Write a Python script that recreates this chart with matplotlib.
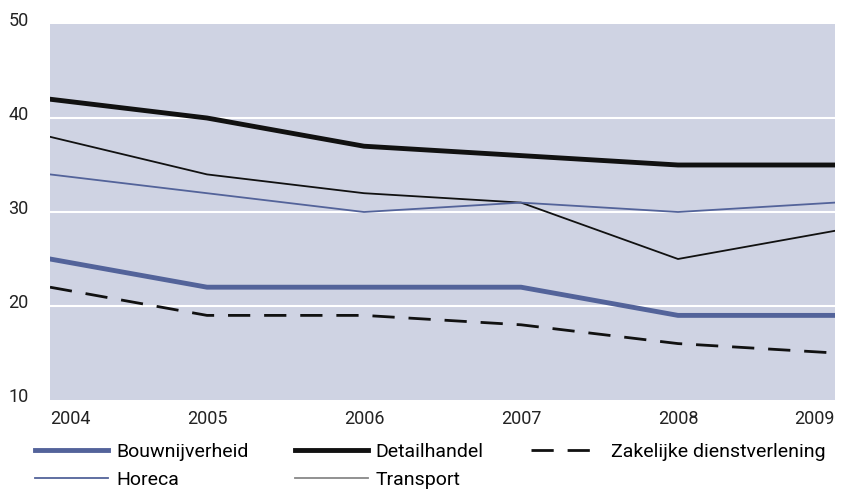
import matplotlib.pyplot as plt
import matplotlib.transforms as mtransforms
from matplotlib.lines import Line2D

years = [2004, 2005, 2006, 2007, 2008, 2009]
bouw = [25, 22, 22, 22, 19, 19]
detail = [42, 40, 37, 36, 35, 35]
zakelijk = [22, 19, 19, 18, 16, 15]
horeca = [34, 32, 30, 31, 30, 31]
transport = [38, 34, 32, 31, 25, 28]

plt.rcParams['font.family'] = ['Roboto', 'DejaVu Sans']

fig = plt.figure(figsize=(8.43, 4.90), dpi=100)
ax = fig.add_axes([0.0593, 0.1837, 0.9312, 0.7673])
ax.set_facecolor('#cfd3e3')

for y in [20, 30, 40]:
    ax.axhline(y, color='white', linewidth=1.5, zorder=1)

blue = '#53639a'
ax.plot(years, detail, color='#111111', linewidth=3.5, zorder=3)
ax.plot(years, transport, color='#111111', linewidth=1.3, zorder=3)
ax.plot(years, horeca, color=blue, linewidth=1.3, zorder=3)
ax.plot(years, bouw, color=blue, linewidth=3.5, zorder=3)
ax.plot(years, zakelijk, color='#111111', linewidth=2, dashes=(8, 5), zorder=3)

ax.set_xlim(2004, 2009)
ax.set_ylim(10, 50)
for s in ax.spines.values():
    s.set_visible(False)
ax.tick_params(length=0, labelsize=13, colors='#222222')
ax.set_yticks([10, 20, 30, 40, 50])
ax.set_yticklabels(['10', '20', '30', '40', '50'], ha='left')
ax.tick_params(axis='y', pad=30)
shift = mtransforms.ScaledTranslation(0, 2.5 / 72, fig.dpi_scale_trans)
for t in ax.get_yticklabels():
    t.set_va('center')
    t.set_transform(t.get_transform() + shift)
ax.set_xticks(years)
ax.tick_params(axis='x', pad=7)
xl = ax.get_xticklabels()
xl[0].set_ha('left')
xl[-1].set_ha('right')

handles = [
    Line2D([], [], color=blue, linewidth=3.5),
    Line2D([], [], color=blue, linewidth=1.3),
    Line2D([], [], color='#111111', linewidth=3.5),
    Line2D([], [], color='#888888', linewidth=1.3),
    Line2D([], [], color='#111111', linewidth=2, dashes=(8, 5)),
]
labels = ['Bouwnijverheid', 'Horeca', 'Detailhandel', 'Transport',
          'Zakelijke dienstverlening']
fig.legend(handles, labels, ncol=3, loc='upper left', bbox_to_anchor=(0.042, 0.096),
           frameon=False, fontsize=14, handlelength=3.75, handletextpad=0.4,
           columnspacing=2.4, labelspacing=0.5, borderpad=0, borderaxespad=0)

fig.savefig('out.png', dpi=100)
